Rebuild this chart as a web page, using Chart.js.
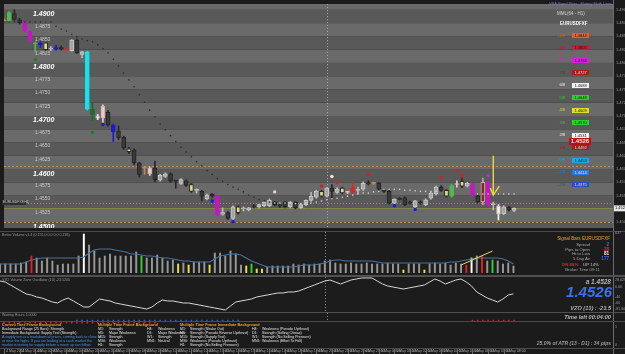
<!DOCTYPE html>
<html>
<head>
<meta charset="utf-8">
<title>EURUSDFXF H1</title>
<script src="https://cdn.jsdelivr.net/npm/chart.js@4.4.1/dist/chart.umd.min.js"></script>
<style>
  html, body { margin: 0; padding: 0; background: #1b1b1b; }
  #wrap { position: relative; width: 625px; height: 354px; overflow: hidden; background: #1b1b1b;
          font-family: "Liberation Sans", Arial, sans-serif; }
  .pane { position: absolute; left: 0; }
  .t { position: absolute; white-space: nowrap; line-height: 1; }
  .sep { position: absolute; left: 0; width: 625px; }
</style>
</head>
<body>
<div id="wrap">
  <canvas id="mainChart" class="pane" width="625" height="232" style="top:0"></canvas>
  <canvas id="volChart" class="pane" width="625" height="44" style="top:232px"></canvas>
  <canvas id="vzoChart" class="pane" width="625" height="36" style="top:277px"></canvas>
  <canvas id="timeChart" class="pane" width="625" height="41" style="top:313px"></canvas>
</div>
<script>
// ---- price bars ----
var open = [1.4881,1.4879,1.4893,1.4881,1.4876,1.4860,1.4837,1.4838,1.4838,1.4826,
1.4829,1.4829,1.4827,1.4823,1.4843,1.4816,1.4821,1.4713,1.4700,1.4696,
1.4707,1.4683,1.4672,1.4660,1.4638,1.4636,1.4612,1.4602,1.4591,1.4602,
1.4579,1.4586,1.4591,1.4578,1.4573,1.4578,1.4571,1.4560,1.4558,1.4544,
1.4553,1.4549,1.4515,1.4518,1.4507,1.4529,1.4525,1.4523,1.4531,1.4529,
1.4531,1.4531,1.4538,1.4533,1.4538,1.4529,1.4538,1.4527,1.4533,1.4541,
1.4547,1.4558,1.4549,1.4564,1.4556,1.4564,1.4556,1.4556,1.4560,1.4562,
1.4574,1.4573,1.4573,1.4560,1.4558,1.4536,1.4545,1.4546,1.4538,1.4529,
1.4538,1.4533,1.4545,1.4553,1.4566,1.4560,1.4549,1.4571,1.4577,1.4568,
1.4571,1.4549,1.4538,1.4575,1.4533,1.4531,1.4516,1.4528,1.4522];
var close = [1.4879,1.4895,1.4882,1.4876,1.4860,1.4842,1.4836,1.4834,1.4825,1.4828,
1.4827,1.4827,1.4824,1.4843,1.4819,1.4821,1.4713,1.4702,1.4696,1.4718,
1.4683,1.4670,1.4659,1.4640,1.4633,1.4612,1.4590,1.4602,1.4602,1.4580,
1.4588,1.4591,1.4577,1.4577,1.4580,1.4569,1.4558,1.4560,1.4549,1.4551,
1.4549,1.4514,1.4518,1.4507,1.4529,1.4518,1.4525,1.4527,1.4529,1.4533,
1.4538,1.4541,1.4533,1.4530,1.4529,1.4538,1.4527,1.4533,1.4541,1.4549,
1.4558,1.4549,1.4564,1.4558,1.4562,1.4555,1.4557,1.4565,1.4560,1.4573,
1.4572,1.4573,1.4562,1.4558,1.4536,1.4543,1.4543,1.4533,1.4536,1.4540,
1.4536,1.4542,1.4555,1.4566,1.4560,1.4549,1.4569,1.4571,1.4568,1.4573,
1.4551,1.4538,1.4575,1.4533,1.4533,1.4515,1.4529,1.4523,1.4526];
var high = [1.4883,1.4897,1.4900,1.4884,1.4878,1.4861,1.4839,1.4840,1.4839,1.4831,
1.4833,1.4832,1.4829,1.4844,1.4845,1.4822,1.4822,1.4724,1.4703,1.4721,
1.4710,1.4685,1.4681,1.4662,1.4641,1.4638,1.4613,1.4605,1.4604,1.4615,
1.4590,1.4593,1.4593,1.4579,1.4582,1.4580,1.4573,1.4563,1.4560,1.4553,
1.4554,1.4550,1.4527,1.4520,1.4531,1.4531,1.4529,1.4528,1.4533,1.4534,
1.4539,1.4544,1.4539,1.4534,1.4539,1.4539,1.4539,1.4534,1.4542,1.4556,
1.4560,1.4560,1.4565,1.4571,1.4565,1.4566,1.4558,1.4575,1.4566,1.4576,
1.4578,1.4575,1.4575,1.4562,1.4560,1.4544,1.4546,1.4548,1.4540,1.4541,
1.4540,1.4544,1.4557,1.4568,1.4569,1.4562,1.4571,1.4578,1.4583,1.4575,
1.4573,1.4551,1.4583,1.4577,1.4538,1.4533,1.4531,1.4530,1.4527];
var low = [1.4877,1.4878,1.4880,1.4873,1.4858,1.4840,1.4820,1.4829,1.4823,1.4823,
1.4824,1.4824,1.4823,1.4822,1.4818,1.4810,1.4711,1.4691,1.4693,1.4688,
1.4681,1.4652,1.4655,1.4637,1.4629,1.4608,1.4585,1.4590,1.4588,1.4576,
1.4577,1.4584,1.4575,1.4564,1.4571,1.4567,1.4556,1.4555,1.4540,1.4542,
1.4547,1.4512,1.4513,1.4505,1.4505,1.4515,1.4521,1.4521,1.4527,1.4527,
1.4529,1.4529,1.4531,1.4528,1.4527,1.4527,1.4525,1.4526,1.4531,1.4539,
1.4545,1.4547,1.4547,1.4545,1.4554,1.4553,1.4554,1.4554,1.4553,1.4560,
1.4570,1.4571,1.4560,1.4556,1.4534,1.4534,1.4542,1.4531,1.4534,1.4527,
1.4534,1.4531,1.4543,1.4551,1.4558,1.4547,1.4547,1.4566,1.4565,1.4566,
1.4549,1.4536,1.4533,1.4530,1.4523,1.4504,1.4514,1.4521,1.4520];
// bar signal type per candle ('-' = plain)
var candleSignal = "OG--MMGBY-B-R---CDWP-B--Y--OP-------Y----M---Y---------------Y---YPR---O-------------YGPY-M-KM-W---";

// trailing dots
var trail = [1.4877,1.4877,1.4877,1.4877,1.4877,1.4877,1.4877,1.4877,1.4877,1.4877,
1.4869,1.4864,1.4860,1.4854,1.4849,1.4845,1.4842,1.4840,1.4834,1.4827,
1.4819,1.4807,1.4794,1.4781,1.4768,1.4755,1.4740,1.4726,1.4711,1.4698,
1.4685,1.4674,1.4663,1.4652,1.4641,1.4632,1.4623,1.4614,1.4606,1.4597,
1.4590,1.4582,1.4577,1.4571,1.4566,1.4562,1.4557,1.4551,1.4547,1.4542,
1.4540,1.4538,1.4536,1.4536,1.4536,1.4536,1.4535,1.4535,1.4536,1.4536,
1.4538,1.4540,1.4542,1.4544,1.4545,1.4547,1.4549,1.4551,1.4553,1.4555,
1.4555,1.4557,1.4558,1.4562,1.4562,1.4562,1.4562,1.4560,1.4560,1.4559,
1.4558,1.4558,1.4558,1.4558,null,null,null,null,null,null,
null,1.4553,1.4553,1.4553,1.4553,1.4553,1.4553,1.4553,1.4553];

// signal markers on the price chart
var markerIdx  = [6, 17, 19, 40, 44, 75, 79, 61, 63, 64, 70, 84, 87, 88, 52, 93];
var markerVal  = [1.4806,1.4669,1.4684,1.4540,1.4501,1.4531,1.4524,1.4568,1.4586,1.4575,1.4590,1.4584,1.4597,1.4588,1.4557,1.4588];
var markerKind = ['g','g','b','b','b','b','b','r','w','r','r','r','r','r','p','v'];

// horizontal levels
var dashLevels = [1.4606, 1.4500];
var stopLevel = 1.4537;
var bidPrice = 1.4526;
var arrowIdx = 94, arrowTop = 1.4625, arrowEnd = 1.4551;

// Murrey math lines
var mmlNames  = ['+2/8','+1/8','8/8','7/8','6/8','5/8','4/8','3/8','2/8','1/8','0/8','-1/8','-2/8'];
var mmlValues = [1.4844,1.4805,1.4766,1.4727,1.4688,1.4648,1.4609,1.4570,1.4531,1.4492,1.4453,1.4414,1.4375];

// ---- volume ----
var volume = [900,900,900,900,1000,1100,1700,1500,1200,1500,
1200,800,900,900,900,1700,3900,2800,2200,1500,
1700,1900,1700,1700,1700,1700,2100,1700,1500,1500,
1800,1500,1200,1300,900,1000,800,1100,1100,1100,
800,2000,2000,1700,2200,1900,800,700,900,400,
400,600,700,700,700,700,900,800,900,800,
900,900,1200,1300,1000,900,900,1000,900,900,
1000,900,900,900,1000,900,900,300,900,900,
900,300,900,1000,900,1000,800,1000,900,800,
1500,1700,1700,1200,1300,1200,900,1000,700];
var volSignal = "------R---------W----------G------Y-Y---Y------YGYY--------------------------Y---Y-------RW-R-G----";
var volMA = [900,900,900,900,900,1100,1300,1400,1500,1500,
1500,1500,1500,1500,1500,1500,1600,2000,2300,2400,
2400,2400,2300,2200,2100,1900,1900,1800,1700,1700,
1600,1500,1500,1400,1300,1200,1200,1100,1100,1100,
1100,1400,1700,1800,1900,1900,1800,1500,1200,1000,
800,600,600,600,600,600,600,700,800,800,
800,900,1000,1200,1300,1300,1200,1200,1200,1200,
1200,1200,1100,1000,1000,1000,1000,1000,1000,1000,
1000,1000,1000,1000,1000,1000,1100,1100,1200,1300,
1400,1500,1500,1500,1500,1500,1400,1200,900];
var trendIdx = [88, 94], trendVal = [800, 2200];

// ---- volume zone oscillator ----
var vzo = [28,24,12,0,-12,-24,-28,-36,-40,-48,
-56,-60,-48,-40,-52,-64,-76,-76,-60,-44,
-48,-52,-60,-64,-68,-72,-76,-80,-84,-76,
-60,-48,-52,-52,-56,-60,-60,-64,-68,-72,
-76,-80,-84,-88,-72,-56,-52,-48,-44,-36,
-32,-28,-24,-20,-20,-16,-16,-12,-4,4,
12,20,28,32,24,16,24,32,36,40,
40,40,28,16,8,4,0,-4,0,4,
8,12,24,36,28,16,24,32,36,24,
8,-16,-28,-40,-48,-56,-44,-28,-23.5];

// waiting-hours dots (first bar, last bar)
var blueRun = [14, 45], redRunLow = [0, 29], redRunHigh = [90, 98];

// time axis labels, one every 3 bars
var tickLabels = ['4 May 2011','4 May 01:00','4 May 02:00','4 May 03:00','4 May 04:00','4 May 05:00',
'4 May 06:00','4 May 07:00','4 May 08:00','4 May 09:00','4 May 10:00','4 May 11:00','4 May 12:00',
'4 May 13:00','4 May 14:00','4 May 15:00','4 May 16:00','4 May 17:00','4 May 18:00','4 May 19:00',
'4 May 20:00','4 May 21:00','4 May 22:00','4 May 23:00','5 May 00:00','5 May 01:00','5 May 02:00',
'5 May 03:00','5 May 04:00','5 May 05:00','5 May 06:00','5 May 07:00','5 May 08:00'];

// ---- layout / style ----
var N_SLOTS = 118, SEP_SLOT = 62, STEP = 0.0025, TRAIL_SWITCH = 52;
var FONT = '"Liberation Sans", Arial, sans-serif';
var slotLabels = [];
for (var s = 0; s < N_SLOTS; s++) slotLabels.push(s);

var signalColors = { O: '#c88a4a', G: '#52b84a', M: '#c814c8', B: '#1a1ad0', Y: '#e4dc8a', R: '#d42a2a',
  C: '#10e4ec', D: '#1f6b2c', W: '#f2f2f2', P: '#f0c6cf', K: '#8a2626' };
var markerColors = { g: '#1f7a2a', b: '#1a1ad8', r: '#d82020', w: '#f4e4e4', p: '#f0c8d8', v: '#9a3ad8' };
var volColors = { '-': '#979797', R: '#e02020', W: '#ffffff', G: '#30d030', Y: '#e8e040' };
var mmlColors = ['#e8601a','#d8123c','#d820d8','#a81c1c','#f2f2f2','#28d228','#e0dc28','#28d228','#f2f2f2','#a81c1c','#1ea8e8','#2a78e0','#2a4cc8'];

var wickData = [], bodyData = [], bodyFill = [], bodyBorder = [], wickColor = [];
for (var i = 0; i < open.length; i++) {
  var sig = candleSignal[i], up = close[i] >= open[i];
  wickData.push([low[i], high[i]]);
  bodyData.push([open[i], close[i]]);
  if (sig === '-') {
    bodyFill.push(up ? '#a4a4a4' : '#3a3a3a');
    bodyBorder.push(up ? '#c6c6c6' : '#242424');
    wickColor.push(up ? '#b8b8b8' : '#262626');
  } else {
    var col = signalColors[sig];
    bodyFill.push(col);
    bodyBorder.push(sig === 'Y' ? '#2a2a2a' : (sig === 'W' || sig === 'P' || sig === 'K') ? '#c8b0b0' : col);
    wickColor.push(sig === 'Y' ? '#2a2a2a' : sig === 'K' ? '#c8a0a0' : col);
  }
}
var trailColor = trail.map(function (v, k) { return k < TRAIL_SWITCH ? '#2a2a2a' : '#d4d4d4'; });
var markerPoints = markerIdx.map(function (k, j) { return { x: k, y: markerVal[j] }; });
var markerPointColors = markerKind.map(function (k) { return markerColors[k]; });

function hLine(c, a, y, color, dash) {
  y = Math.round(y) + 0.5;
  c.strokeStyle = color; c.lineWidth = 1; c.setLineDash(dash);
  c.beginPath(); c.moveTo(a.left, y); c.lineTo(a.right, y); c.stroke();
  c.setLineDash([]);
}

var mainDeco = {
  id: 'mainDeco',
  beforeDatasetsDraw: function (chart) {
    var c = chart.ctx, a = chart.chartArea, ys = chart.scales.y, xs = chart.scales.x;
    c.save();
    c.beginPath(); c.rect(a.left, a.top, a.right - a.left, a.bottom - a.top); c.clip();
    for (var k = Math.floor(ys.min / STEP); k * STEP < ys.max; k++) {
      var y0 = ys.getPixelForValue(k * STEP), y1 = ys.getPixelForValue((k + 1) * STEP);
      c.fillStyle = k % 2 === 0 ? '#6a6a6a' : '#595959';
      c.fillRect(a.left, y1, a.right - a.left, y0 - y1);
    }
    c.textAlign = 'left'; c.textBaseline = 'top';
    for (var k2 = 580; k2 <= 596; k2++) {
      var p = k2 * STEP, yy = ys.getPixelForValue(p), major = k2 % 4 === 0;
      c.font = major ? 'italic bold 7px ' + FONT : '5px ' + FONT;
      c.fillStyle = major ? '#ffffff' : '#c8c8c8';
      c.fillText(p.toFixed(4), major ? 33 : 35, yy + 1);
    }
    dashLevels.forEach(function (lv) { hLine(c, a, ys.getPixelForValue(lv), '#c08c58', [2, 2]); });
    hLine(c, a, ys.getPixelForValue(stopLevel), '#5f9ea0', [1, 2]);
    hLine(c, a, ys.getPixelForValue(bidPrice), '#83834e', []);
    var x = Math.round(xs.getPixelForValue(SEP_SLOT)) + 0.5;
    c.strokeStyle = '#a8a8a8'; c.setLineDash([1, 2]);
    c.beginPath(); c.moveTo(x, a.top); c.lineTo(x, a.bottom); c.stroke();
    c.restore();
  },
  afterDatasetsDraw: function (chart) {
    var c = chart.ctx, a = chart.chartArea, ys = chart.scales.y, xs = chart.scales.x;
    c.save();
    // yellow arrow
    var ax = xs.getPixelForValue(arrowIdx), at = ys.getPixelForValue(arrowTop), ab = ys.getPixelForValue(arrowEnd);
    c.strokeStyle = '#e6dc3c'; c.lineWidth = 1.4;
    c.beginPath(); c.moveTo(ax, at); c.lineTo(ax, ab); c.stroke();
    c.beginPath(); c.moveTo(ax - 3, ab - 7); c.lineTo(ax, ab); c.lineTo(ax + 6, ab - 9); c.stroke();
    // right axis
    c.fillStyle = '#1b1b1b'; c.fillRect(a.right, 0, chart.width - a.right, chart.height);
    c.strokeStyle = '#6c6c6c'; c.lineWidth = 1;
    c.beginPath(); c.moveTo(a.right + 0.5, 0); c.lineTo(a.right + 0.5, chart.height); c.stroke();
    c.font = '4px ' + FONT; c.fillStyle = '#9c9c9c'; c.textAlign = 'left'; c.textBaseline = 'middle';
    for (var k = 580; k <= 596; k++) c.fillText((k * STEP).toFixed(4), a.right + 3, ys.getPixelForValue(k * STEP));
    var by = ys.getPixelForValue(bidPrice);
    c.fillStyle = '#e6e6e6'; c.fillRect(a.right + 1, by - 3, 12, 6);
    c.fillStyle = '#111'; c.fillText(bidPrice.toFixed(4), a.right + 2, by);
    c.restore();
  }
};

function panelDeco(bg, sepBottom) {
  return {
    id: 'panelDeco',
    beforeDraw: function (chart) {
      var c = chart.ctx, a = chart.chartArea, xs = chart.scales.x;
      c.save();
      c.fillStyle = bg; c.fillRect(0, 0, chart.width, chart.height);
      var x = Math.round(xs.getPixelForValue(SEP_SLOT)) + 0.5;
      c.strokeStyle = '#8c8c8c'; c.lineWidth = 1; c.setLineDash([1, 2]);
      c.beginPath(); c.moveTo(x, 0); c.lineTo(x, sepBottom); c.stroke();
      c.setLineDash([]);
      c.strokeStyle = '#6c6c6c';
      c.beginPath(); c.moveTo(a.right + 0.5, 0); c.lineTo(a.right + 0.5, chart.height); c.stroke();
      c.restore();
    }
  };
}

var baseOptions = function (ymin, ymax, pad) {
  return {
    responsive: false, animation: false,
    layout: { padding: { top: pad[0], bottom: pad[1], left: 0, right: 12 } },
    plugins: { legend: { display: false }, tooltip: { enabled: false } },
    scales: {
      x: { display: false, offset: false, grid: { display: false } },
      y: { display: false, min: ymin, max: ymax }
    }
  };
};

// ---- main price chart ----
new Chart(document.getElementById('mainChart'), {
  type: 'bar',
  data: {
    labels: slotLabels,
    datasets: [
      { type: 'bar', data: wickData, backgroundColor: wickColor, barThickness: 1, grouped: false, order: 4 },
      { type: 'bar', data: bodyData, backgroundColor: bodyFill, borderColor: bodyBorder, borderWidth: 1,
        borderSkipped: false, barThickness: 4, minBarLength: 1, grouped: false, order: 3 },
      { type: 'line', data: trail, showLine: false, pointRadius: 0.8, pointBorderWidth: 0,
        pointBackgroundColor: trailColor, order: 2 },
      { type: 'line', data: markerPoints, showLine: false, pointRadius: 1.7, pointBorderWidth: 0,
        pointBackgroundColor: markerPointColors, order: 1 }
    ]
  },
  options: baseOptions(1.4489, 1.4911, [1, 1]),
  plugins: [mainDeco]
});

// ---- volume ----
var volTrend = slotLabels.map(function () { return null; });
trendIdx.forEach(function (k, j) { volTrend[k] = trendVal[j]; });
new Chart(document.getElementById('volChart'), {
  type: 'bar',
  data: {
    labels: slotLabels,
    datasets: [
      { type: 'line', data: volTrend, borderColor: '#e6de5a', borderWidth: 1, pointRadius: 0, spanGaps: true, order: 0 },
      { type: 'line', data: volMA, borderColor: '#46729f', borderWidth: 1.1, pointRadius: 0, order: 1 },
      { type: 'bar', data: volume, barThickness: 1.3, order: 2,
        backgroundColor: volume.map(function (v, k) { return volColors[volSignal[k]]; }) }
    ]
  },
  options: baseOptions(0, 4000, [1, 3]),
  plugins: [panelDeco('#1c1c1c', 44)]
});

// ---- VZO ----
new Chart(document.getElementById('vzoChart'), {
  type: 'line',
  data: {
    labels: slotLabels,
    datasets: [{ data: vzo, borderColor: '#d6d6d6', borderWidth: 1, pointRadius: 0 }]
  },
  options: baseOptions(-100, 44, [0, 0]),
  plugins: [panelDeco('#1c1c1c', 36)]
});

// ---- waiting hours dots + time axis ----
function runSeries(run) {
  return slotLabels.map(function (k) { return (k >= run[0] && k <= run[1]) ? 1 : null; });
}
var ROW_UP = 6.2, ROW_DN = 5.7;
var timeAxis = {
  id: 'timeAxis',
  afterDraw: function (chart) {
    var c = chart.ctx, xs = chart.scales.x, a = chart.chartArea;
    c.save();
    c.font = '3.6px ' + FONT; c.textBaseline = 'top'; c.textAlign = 'left';
    tickLabels.forEach(function (lab, k) {
      var x = Math.round(xs.getPixelForValue(k * 3)) + 0.5;
      c.strokeStyle = '#6a6a6a'; c.lineWidth = 1;
      c.beginPath(); c.moveTo(x, a.bottom + 1); c.lineTo(x, chart.height); c.stroke();
      c.fillStyle = '#a4a4a4';
      c.fillText(lab, x + 1.5, a.bottom + 1.5);
    });
    c.restore();
  }
};
new Chart(document.getElementById('timeChart'), {
  type: 'line',
  data: {
    labels: slotLabels,
    datasets: [
      { data: runSeries(blueRun).map(function (v) { return v && ROW_UP; }), showLine: false, pointStyle: 'rect',
        pointRadius: 1.1, pointBorderWidth: 0, pointBackgroundColor: '#2c5ee0' },
      { data: runSeries(redRunLow).map(function (v) { return v && ROW_DN; }), showLine: false, pointStyle: 'rect',
        pointRadius: 1.1, pointBorderWidth: 0, pointBackgroundColor: '#d42222' },
      { data: runSeries(redRunHigh).map(function (v) { return v && ROW_UP; }), showLine: false, pointStyle: 'rect',
        pointRadius: 1.1, pointBorderWidth: 0, pointBackgroundColor: '#d42222' }
    ]
  },
  options: baseOptions(0, 7, [0, 6]),
  plugins: [panelDeco('#1b1b1b', 8), timeAxis]
});

// ---- text overlays ----
var wrap = document.getElementById('wrap');
function txt(x, y, s, css, right) {
  var d = document.createElement('div');
  d.className = 't';
  d.style.cssText = css;
  d.textContent = s;
  d.style.top = y + 'px';
  if (right) d.style.right = (625 - x) + 'px'; else d.style.left = x + 'px';
  wrap.appendChild(d);
  return d;
}
function sep(y, h, color) {
  var d = document.createElement('div');
  d.className = 'sep';
  d.style.top = y + 'px'; d.style.height = h + 'px'; d.style.background = color;
  wrap.appendChild(d);
}
sep(231, 1, '#4a4a4a');
sep(275, 2, '#505050');
sep(312, 1, '#505050');
sep(321, 1, '#4a4a4a');
sep(348, 1, '#4a4a4a');

var tiny = 'font-size:3.6px;color:#9a9a9a;';
// main chart annotations
txt(612, 3, 'VSA Signal Bars \u00b7 Murrey Math Lines', 'font-size:3.8px;color:#8a78d8;', true);
txt(557, 12, 'MML(64 - H1)', 'font-size:4.5px;color:#d4d4d4;');
txt(560, 22, 'EURUSDFXF', 'font-size:4.5px;font-weight:bold;color:#ffffff;');
mmlNames.forEach(function (n, k) {
  var yc = 35.5 + k * 12.45, col = mmlColors[k];
  txt(565, yc - 2, n, 'font-size:4px;color:' + col + ';', true);
  var dark = (col === '#a81c1c' || col === '#2a4cc8' || col === '#2a78e0');
  txt(572, yc - 2.5, mmlValues[k].toFixed(4), 'font-size:4px;width:17px;height:5px;line-height:5px;text-align:center;' +
    'background:' + col + ';color:' + (dark ? '#f0d0d0' : '#1a1a1a') + ';');
});
txt(569, 138, '1.4526', 'font-size:6px;font-weight:bold;width:22px;height:7px;line-height:7px;text-align:center;background:#b41414;color:#ffe0e0;');
txt(2, 200, 'EURUSDFXF,H1', 'font-size:3.4px;width:23px;height:5px;line-height:5px;background:#2e2e2e;color:#d0d0d0;padding-left:1px;');

// volume panel
txt(2, 234, 'Better Volume v1.4 (0 155.0 0.0 0.0 0.236)', tiny);
txt(615, 232, '637', tiny);
txt(610, 237, 'Signal Bars EURUSDFXF', 'font-size:4.6px;color:#e8a030;', true);
var infoRows = [['Spread', '2', '#3a70e0'], ['Pips to Open', '-38', '#e03030'], ['Hi to Low', '81', '#f0f0f0'], ['5 Day Av', '177', '#3a70e0']];
infoRows.forEach(function (r, k) {
  txt(590, 243 + k * 4.5, r[0], 'font-size:4.3px;color:#a8a8a8;', true);
  txt(609, 243 + k * 4.5, r[1], 'font-size:4.6px;font-weight:bold;color:' + r[2] + ';', true);
});
txt(562, 263, 'DN 86%', 'font-size:4.4px;font-weight:bold;color:#e02828;');
txt(583, 263, 'UP 14%', 'font-size:4.4px;color:#c8c8c8;');
txt(600, 268, 'Broker Time 09:11', 'font-size:4.3px;color:#a0a0a0;', true);

// VZO panel
txt(2, 279, 'VZO Volume Zone Oscillator (13) -23.5205', tiny);
txt(611, 278.5, 'a 1.4528', 'font-size:6.5px;font-weight:bold;font-style:italic;color:#b4b4b4;', true);
txt(612, 284, '1.4526', 'font-size:15px;font-weight:bold;font-style:italic;color:#3b72ea;', true);
txt(611, 305.5, 'VZO (13) : -23.5', 'font-size:5.6px;font-weight:bold;font-style:italic;color:#b0b0b0;', true);
txt(615, 279, '28.0297', tiny);
txt(615, 286, '0.00', tiny);
txt(615, 296, '-40', tiny);
txt(615, 302, '-60', tiny);
txt(615, 307.5, '-81.604', tiny);

// waiting hours row
txt(2, 314, 'Waiting Hours 1.0000', tiny);
txt(611, 314.5, 'Time left  00:04:00', 'font-size:5.6px;font-weight:bold;font-style:italic;color:#b8b8b8;', true);

// info panel
var hdr = 'font-size:3.8px;font-weight:bold;color:#f0a030;';
var wt = 'font-size:3.6px;color:#e6e6e6;';
var bl = 'font-size:3.6px;color:#4a92e4;';
var lineY = [323.5, 327.5, 331.5, 335.5, 339.5, 343.5];
txt(2, lineY[0], 'Current Time Frame Background', hdr);
txt(2, lineY[1], 'Background Range (25 Bars): Strength', wt);
txt(2, lineY[2], 'Immediate Background: Supply Test (Strength)', wt);
txt(2, lineY[3], 'A supply test is a markdown of prices, coming back to close on', bl);
txt(2, lineY[4], 'or near the highs. If you are looking at a cash market the', bl);
txt(2, lineY[5], 'market is testing for supply before a move up can follow.', bl);

txt(98, lineY[0], 'Multiple Time Frame Background', hdr);
var mtfA = [['M1:', 'Strength'], ['M5:', 'Major Weakness'], ['M15:', 'Strength'], ['M30:', 'Weakness'], ['H1:', 'Strength']];
var mtfB = [['H4:', 'Weakness'], ['D1:', 'Major Weakness'], ['W1:', 'Strength'], ['MN1:', 'Neutral']];
mtfA.forEach(function (r, k) { txt(98, lineY[k + 1], r[0], wt); txt(109, lineY[k + 1], r[1], wt); });
mtfB.forEach(function (r, k) { txt(147, lineY[k + 1], r[0], wt); txt(158, lineY[k + 1], r[1], wt); });

txt(180, lineY[0], 'Multiple Time Frame Immediate Background', hdr);
var imA = [['M1:', 'Strength (Shake Out)'], ['M5:', 'Strength (Pseudo Reverse Upthrust)'], ['M15:', 'Strength (Supply Test)'],
  ['M30:', 'Weakness (Pseudo Upthrust)'], ['H1:', 'Strength (No Selling Pressure)']];
var imB = [['H4:', 'Weakness (Pseudo Upthrust)'], ['D1:', 'Strength (Selling Climax)'], ['W1:', 'Strength (No Selling Pressure)'],
  ['MN1:', 'Weakness (Effort To Fall)']];
imA.forEach(function (r, k) { txt(180, lineY[k + 1], r[0], wt); txt(190, lineY[k + 1], r[1], wt); });
imB.forEach(function (r, k) { txt(252, lineY[k + 1], r[0], wt); txt(262, lineY[k + 1], r[1], wt); });

txt(611, 341, '25.0% of ATR (13 - D1) : 34 pips', 'font-size:5px;font-weight:bold;font-style:italic;color:#9c9c9c;', true);
txt(615, 326, '1', tiny);
txt(615, 344, '0', tiny);
</script>
</body>
</html>
